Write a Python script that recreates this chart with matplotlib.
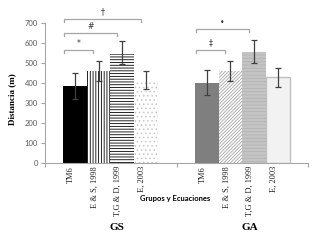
import matplotlib
matplotlib.use("Agg")
import matplotlib.pyplot as plt
import numpy as np

plt.rcParams['hatch.linewidth'] = 0.6

groups = ["GS", "GA"]
methods = ["TM6", "E & S, 1998", "T,G & D, 1999", "E, 2003"]
gs_vals = [385, 458, 545, 415]
gs_err_hi = [448, 510, 612, 460]
gs_err_lo = [322, 408, 495, 368]
ga_vals = [400, 460, 555, 430]
ga_err_hi = [465, 510, 615, 475]
ga_err_lo = [338, 410, 500, 380]

# brackets: (group index, from bar, to bar, level, symbol)
brackets = [
    (0, 0, 1, 565, "*"),
    (0, 0, 2, 650, "#"),
    (0, 0, 3, 720, "\u2020"),
    (1, 0, 1, 565, "\u2021"),
    (1, 0, 2, 668, "\u2022"),
]

W, H = 324, 241
fig = plt.figure(figsize=(W / 100, H / 100), dpi=100)
ax = fig.add_axes([45 / W, (H - 163) / H, 263 / W, 158 / H])

bw = 0.18
offs = [0.137, 0.14]
styles = [
    [dict(color="black"),
     dict(facecolor="white", edgecolor="black", hatch="||||||", linewidth=0),
     dict(facecolor="white", edgecolor="black", hatch="------", linewidth=0),
     dict(facecolor="white", edgecolor="#c8c8c8", hatch="....", linewidth=0)],
    [dict(color="#7f7f7f"),
     dict(facecolor="white", edgecolor="#a6a6a6", hatch="//////////", linewidth=0),
     dict(facecolor="#c4c4c4", edgecolor="#b4b4b4", hatch="-----", linewidth=0),
     dict(facecolor="#f2f2f2", edgecolor="#bfbfbf", linewidth=1.0)],
]
data = [(gs_vals, gs_err_hi, gs_err_lo), (ga_vals, ga_err_hi, ga_err_lo)]
centers = []
for g, (vals, hi, lo) in enumerate(data):
    xs = g + offs[g] + bw * (np.arange(len(vals)) + 0.5)
    centers.append(xs)
    for i in range(len(vals)):
        ax.bar(xs[i], vals[i], width=bw, zorder=2, **styles[g][i])
    vals_a = np.array(vals)
    yerr = [vals_a - np.array(lo), np.array(hi) - vals_a]
    ax.errorbar(xs, vals, yerr=yerr, fmt="none", ecolor="#404040",
                elinewidth=0.9, capsize=2, capthick=0.9, zorder=3)
    for i, lab in enumerate(methods):
        ax.text(xs[i] - 0.03, -15, lab, rotation=90, ha="center", va="top",
                fontsize=6, family="Liberation Serif", color="#222222")

for g, a, b, lvl, sym in brackets:
    x0 = centers[g][a] - bw / 2 + 0.01
    x1 = centers[g][b] - 0.04
    ax.plot([x0, x0, x1, x1], [lvl - 14, lvl, lvl, lvl - 14], color="#a6a6a6",
            lw=0.9, zorder=4, solid_joinstyle="miter")
    ax.text((x0 + x1) / 2, lvl + 12, sym, ha="center", va="bottom",
            fontsize=5.5, color="#333333")

ax.set_xlim(0, 2)
ax.set_ylim(0, 790)
ax.set_yticks(range(0, 701, 100))
ax.set_xticks([0, 1, 2])
ax.set_xticklabels([])
ax.tick_params(axis="y", colors="#a6a6a6", labelcolor="#595959", labelsize=5.5,
               length=3, width=0.8, pad=2)
ax.tick_params(axis="x", colors="#a6a6a6", length=3, width=0.8)
for lbl in ax.get_yticklabels():
    lbl.set_family("Lato")
for s in ["top", "right"]:
    ax.spines[s].set_visible(False)
ax.spines["left"].set_bounds(0, 700)
ax.spines["left"].set_color("#a6a6a6")
ax.spines["bottom"].set_color("#a6a6a6")
ax.spines["left"].set_linewidth(0.8)
ax.spines["bottom"].set_linewidth(0.8)

fig.text(12 / W, 1 - 99 / H, "Distancia (m)", rotation=90, ha="center",
         va="center", fontsize=6.5, fontweight="bold", family="Liberation Serif")
fig.text(175 / W, 1 - 199 / H, "Grupos y Ecuaciones", ha="center", va="center",
         fontsize=5.5, fontweight="bold", family="Lato")
fig.text(117 / W, 1 - 227 / H, groups[0], ha="center", va="center",
         fontsize=8, fontweight="bold", family="Liberation Serif")
fig.text(250 / W, 1 - 227 / H, groups[1], ha="center", va="center",
         fontsize=8, fontweight="bold", family="Liberation Serif")

fig.savefig("out.png", dpi=100)
